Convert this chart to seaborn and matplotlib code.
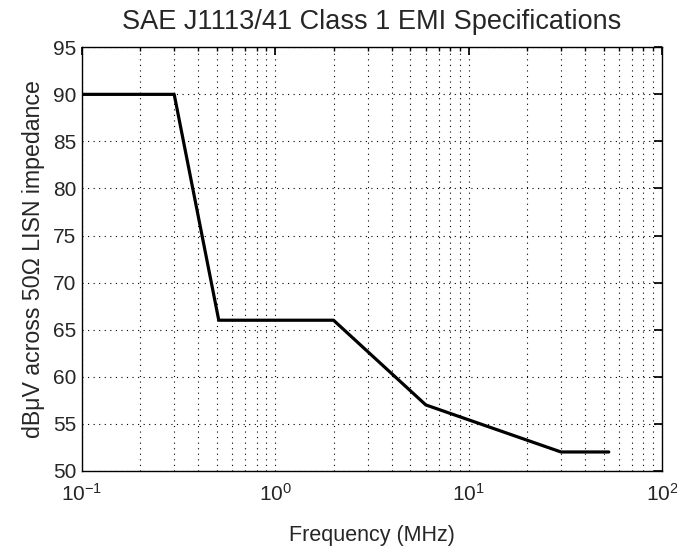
import matplotlib
matplotlib.use("Agg")
import matplotlib.pyplot as plt
import seaborn as sns
import pandas as pd
import numpy as np

freq_mhz = [0.1, 0.3, 0.51, 2.0, 6.0, 30.0, 53.0]
level_dbuv = [90, 90, 66, 66, 57, 52, 52]
y_ticks = [50, 55, 60, 65, 70, 75, 80, 85, 90, 95]

sns.set_theme(style="white")
plt.rcParams['font.family'] = ['Liberation Sans', 'DejaVu Sans']
plt.rcParams['mathtext.fontset'] = 'custom'
plt.rcParams['mathtext.rm'] = 'Liberation Sans'
plt.rcParams['mathtext.it'] = 'Liberation Sans'
plt.rcParams['mathtext.default'] = 'regular'

df = pd.DataFrame({"f": freq_mhz, "v": level_dbuv})

fig = plt.figure(figsize=(6.77, 5.5), dpi=100)
ax = fig.add_axes([0.121, 0.144, 0.857, 0.770])
sns.lineplot(data=df, x="f", y="v", ax=ax, color="black", linewidth=2.3, sort=False)
ax.set_xscale("log")
ax.set_xlim(0.1, 100)
ax.set_ylim(50, 95)
ax.set_yticks(y_ticks)
grid_style = dict(linestyle=(0, (1, 4)), color="black", linewidth=0.8)
ax.grid(True, which="major", axis="both", **grid_style)
ax.grid(True, which="minor", axis="x", **grid_style)
ax.tick_params(which="both", direction="in", top=True, right=True, labelsize=15, color="black")
ax.tick_params(which="major", length=6)
ax.tick_params(which="minor", length=3)
ax.tick_params(axis="x", which="major", pad=9)
ax.tick_params(axis="y", which="major", pad=4)
for s in ax.spines.values():
    s.set_color("black")
    s.set_linewidth(1.0)
ax.set_xlabel("Frequency (MHz)", fontsize=15.5, labelpad=14)
ax.set_ylabel("dBμV across 50Ω LISN impedance", fontsize=16.7, labelpad=6)
ax.set_title("SAE J1113/41 Class 1 EMI Specifications", fontsize=19.5, pad=13)
fig.savefig("out.png", dpi=100)
